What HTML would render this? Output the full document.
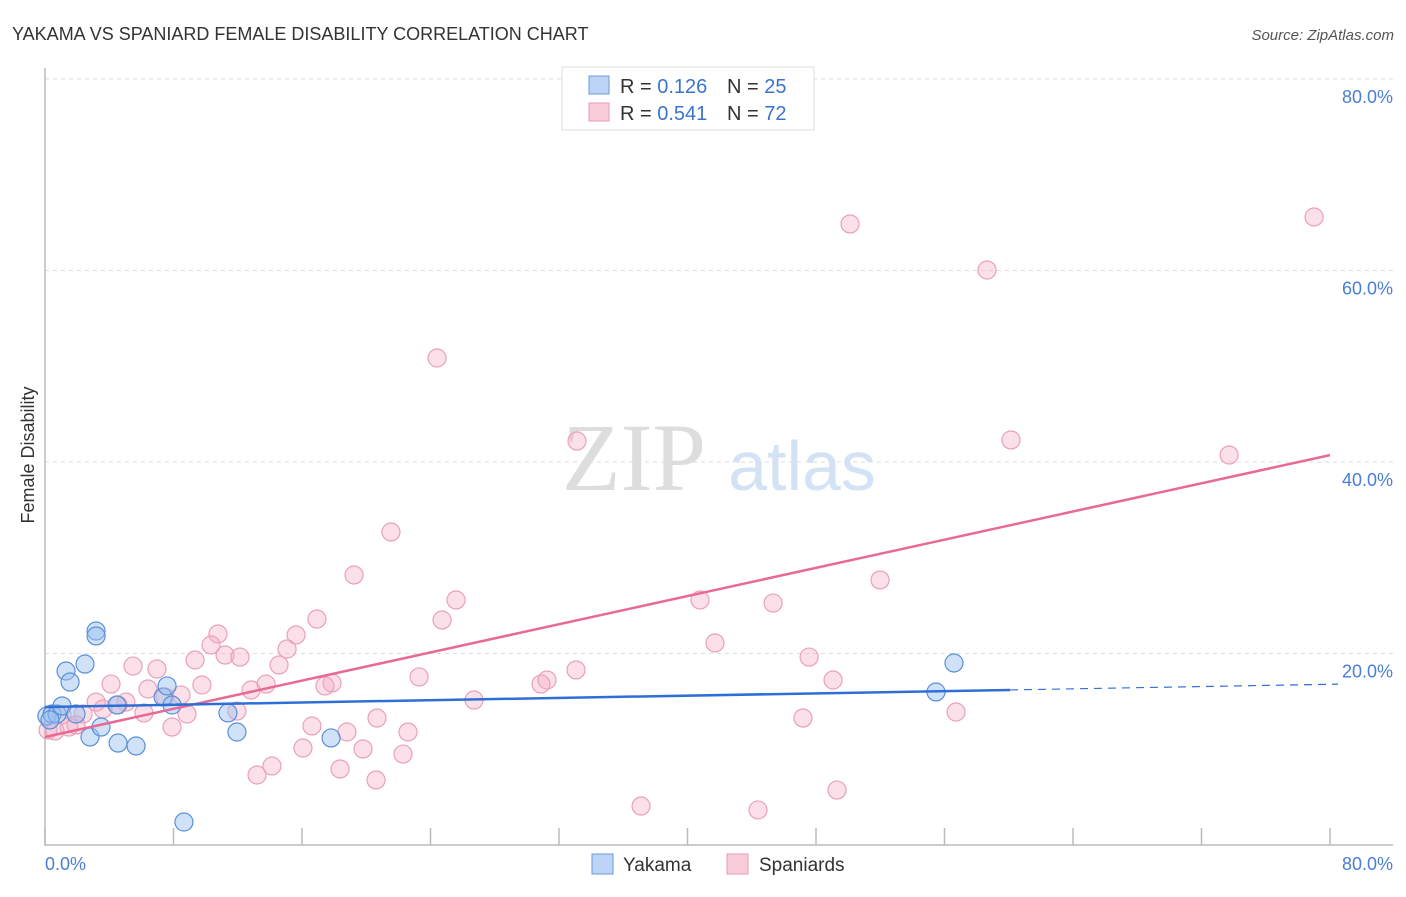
<!DOCTYPE html>
<html><head><meta charset="utf-8"><style>
body{margin:0;background:#fff;font-family:"Liberation Sans",sans-serif;}
</style></head><body>
<svg width="1406" height="892" viewBox="0 0 1406 892" xmlns="http://www.w3.org/2000/svg">
<text x="12" y="40" font-size="18" fill="#333">YAKAMA VS SPANIARD FEMALE DISABILITY CORRELATION CHART</text>
<text x="1394" y="40" font-size="15" fill="#555" font-style="italic" text-anchor="end">Source: ZipAtlas.com</text>
<text x="634" y="490" font-size="96" fill="#ddd" font-family="Liberation Serif,serif" text-anchor="middle">ZIP</text>
<text x="802" y="490" font-size="70" fill="#d3e2f5" text-anchor="middle">atlas</text>
<g id="grid"></g>
<g id="axes"></g>
<g id="pts"></g>
<g id="lines"></g>
<text transform="translate(34,455) rotate(-90)" font-size="18" fill="#333" text-anchor="middle">Female Disability</text>
<text x="45" y="870" font-size="18" fill="#4a7fd4">0.0%</text>
<text x="1393" y="870" font-size="18" fill="#4a7fd4" text-anchor="end">80.0%</text>
<g>
<rect x="562" y="67" width="252" height="63" fill="#fff" stroke="#ddd"/>
<rect x="589" y="76" width="20" height="18" fill="#bcd4f5" stroke="#6d9ad9"/>
<rect x="589" y="103" width="20" height="18" fill="#f9ccd9" stroke="#e89ab5"/>
<text x="620" y="93" font-size="20" fill="#333">R = <tspan fill="#3a74cf">0.126</tspan><tspan x="727">N = </tspan><tspan fill="#3a74cf">25</tspan></text>
<text x="620" y="120" font-size="20" fill="#333">R = <tspan fill="#3a74cf">0.541</tspan><tspan x="727">N = </tspan><tspan fill="#3a74cf">72</tspan></text>
</g>
<g>
<rect x="592" y="854" width="21" height="20" fill="#bcd4f5" stroke="#6d9ad9"/>
<text x="623" y="871" font-size="19" fill="#333">Yakama</text>
<rect x="727" y="854" width="21" height="20" fill="#f9ccd9" stroke="#e89ab5"/>
<text x="759" y="871" font-size="19" fill="#333">Spaniards</text>
</g>
</svg>
<script>
const yTicks=[20,40,60,80];
const yTickLabels=["20.0%","40.0%","60.0%","80.0%"];
const xTicks=[0,8,16,24,32,40,48,56,64,72,80];
const blueX=[0.12,0.44,0.75,1.06,1.31,1.56,1.93,2.49,2.80,3.18,3.18,3.49,4.55,5.67,4.48,7.35,7.60,7.91,8.65,11.39,11.95,17.81,55.47,56.59,0.31];
const blueY=[13.47,13.68,13.68,14.52,18.17,17.02,13.68,18.90,11.28,22.35,21.83,12.32,10.65,10.34,14.62,15.46,16.61,14.62,2.40,13.79,11.80,11.18,15.98,19.01,13.06];
const pinkX=[79.01,50.12,58.65,24.41,33.12,60.14,73.72,21.54,19.24,51.99,25.59,40.78,45.33,24.72,16.93,10.77,15.63,41.71,10.34,15.07,11.21,12.14,47.57,9.34,14.57,5.48,6.97,33.06,23.29,31.25,30.88,49.06,4.11,13.76,9.77,6.41,17.87,17.43,12.83,8.47,7.47,26.71,3.18,5.04,4.55,3.61,6.16,11.95,8.84,56.72,2.37,47.19,20.67,1.06,16.62,7.91,1.49,1.93,0.19,0.62,18.80,22.60,16.06,19.80,22.29,14.13,18.37,13.20,20.61,37.11,44.39,49.31];
const pinkY=[65.59,64.86,60.05,50.86,42.19,42.30,40.73,32.69,28.20,27.68,25.59,25.59,25.27,23.50,23.60,22.04,21.93,21.10,20.89,20.47,19.84,19.63,19.63,19.32,18.80,18.69,18.38,18.28,17.55,17.23,16.81,17.23,16.81,16.81,16.71,16.29,16.92,16.61,16.19,15.67,15.46,15.14,14.93,14.93,14.62,14.20,13.79,13.99,13.68,13.89,13.68,13.26,13.26,13.58,12.43,12.32,12.32,12.53,12.01,11.91,11.80,11.80,10.13,10.03,9.50,8.25,7.94,7.31,6.79,4.07,3.66,5.74];
const blueTrend=[14.41,0.0297];
const pinkTrend=[11.28,0.368];
const blueSolidEnd=60.08;
const X=v=>45+v/80*1285, Y=v=>845-v/80*766;
const NS="http://www.w3.org/2000/svg";
function mk(p,t,a){const e=document.createElementNS(NS,t);for(const k in a)e.setAttribute(k,a[k]);p.appendChild(e);return e;}
const grid=document.getElementById('grid'),axes=document.getElementById('axes'),pts=document.getElementById('pts'),lines=document.getElementById('lines');
yTicks.forEach((t,i)=>{
 const l=mk(grid,'line',{x1:45,x2:1393,y1:Y(t),y2:Y(t),stroke:'#ddd','stroke-dasharray':'4,4'});
 
 
 const tx=mk(grid,'text',{x:1393,y:Y(t)+24,'font-size':18,fill:'#4a7fd4','text-anchor':'end'});
 tx.textContent=yTickLabels[i];
 
 
});
const ax=mk(axes,'path',{d:'M45,68 V845 H1393',fill:'none',stroke:'#bbb','stroke-width':1.5});


xTicks.forEach(t=>{
 const l=mk(axes,'line',{x1:X(t),x2:X(t),y1:828,y2:845,stroke:'#bbb','stroke-width':1.5});
 
 
});
pinkX.forEach((x,i)=>{
 const c=mk(pts,'circle',{cx:X(x),cy:Y(pinkY[i]),r:9,fill:'rgba(244,165,192,0.35)',stroke:'#eaa0ba','stroke-width':1.2});
 
 
});
blueX.forEach((x,i)=>{
 const c=mk(pts,'circle',{cx:X(x),cy:Y(blueY[i]),r:9,fill:'rgba(150,190,240,0.45)',stroke:'#5b8fd8','stroke-width':1.2});
 
 
});
const pl=mk(lines,'line',{x1:X(0),y1:Y(pinkTrend[0]),x2:X(80),y2:Y(pinkTrend[0]+pinkTrend[1]*80),stroke:'#e86a94','stroke-width':2.5});


const bl=mk(lines,'line',{x1:X(0),y1:Y(blueTrend[0]),x2:X(blueSolidEnd),y2:Y(blueTrend[0]+blueTrend[1]*blueSolidEnd),stroke:'#2d6fd6','stroke-width':2.5});


const bd=mk(lines,'line',{x1:X(blueSolidEnd),y1:Y(blueTrend[0]+blueTrend[1]*blueSolidEnd),x2:X(80.5),y2:Y(blueTrend[0]+blueTrend[1]*80.5),stroke:'#2d6fd6','stroke-width':1.2,'stroke-dasharray':'8,6'});


</script>
</body></html>
